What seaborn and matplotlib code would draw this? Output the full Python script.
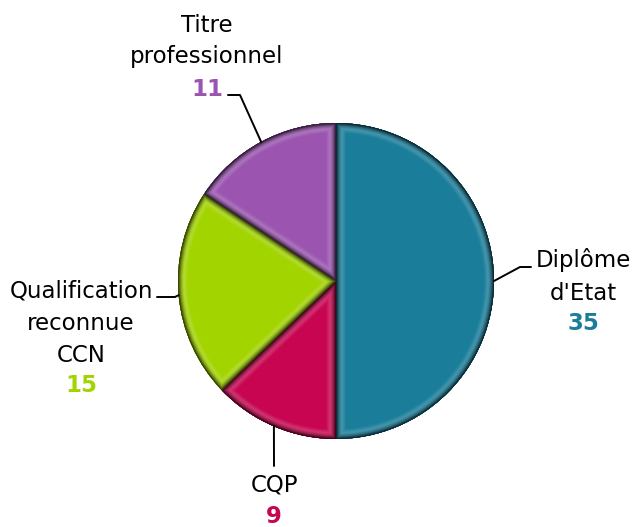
import numpy as np
import matplotlib
matplotlib.use("Agg")
import matplotlib.pyplot as plt
from matplotlib.colors import to_rgb
import seaborn as sns

categories = ["Diplôme\nd'Etat", "CQP", "Qualification\nreconnue\nCCN", "Titre\nprofessionnel"]
values = [35, 9, 15, 11]
colors = ["#1A7E9B", "#C70550", "#A2D400", "#9B55B0"]

sns.set_theme(style="white")
plt.rcParams['font.family'] = ['DejaVu Sans']

W, H = 633, 527
fig = plt.figure(figsize=(W / 100, H / 100), dpi=100)
cx, cy, R = 336, 281, 158
ax = fig.add_axes([(cx - R) / W, (H - cy - R) / H, 2 * R / W, 2 * R / H])


def blend(c1, c2, t):
    a, b = np.array(to_rgb(c1)), np.array(to_rgb(c2))
    return tuple(a + (b - a) * t)


# base pie (also used as clip shapes)
base, _ = ax.pie(values, colors=colors, startangle=90, counterclock=False,
                 radius=1.0, frame=False, wedgeprops=dict(linewidth=0, zorder=2))

# bevel: strokes clipped to each wedge, widest (main colour) first, narrowest (dark) last
n = 16
max_lw = 15.0
for i in range(n):
    t = i / (n - 1)  # 0 -> inner (main), 1 -> outer edge (dark)
    layer_cols = []
    for c in colors:
        dark = blend(c, "black", 0.7)
        light = blend(c, "white", 0.18)
        if t < 0.4:
            layer_cols.append(blend(c, light, t / 0.4))
        else:
            layer_cols.append(blend(light, dark, ((t - 0.4) / 0.6) ** 1.6))
    lw = max_lw * (1 - i / n)
    wedges, _ = ax.pie(values, startangle=90, counterclock=False, radius=1.0,
                       frame=False,
                       wedgeprops=dict(linewidth=lw, zorder=3 + i, facecolor="none"))
    for w, b, ec in zip(wedges, base, layer_cols):
        w.set_edgecolor(ec)
        w.set_facecolor("none")
        w.set_clip_on(True)
        w.set_clip_path(b)

ax.set_xlim(-1, 1)
ax.set_ylim(-1, 1)
ax.set_aspect("equal")
ax.axis("off")

# mid angles
total = sum(values)
angles = []
start = 90.0
for v in values:
    sweep = 360.0 * v / total
    angles.append(np.deg2rad(start - sweep / 2))
    start -= sweep


def px(x, y):
    return ((x - cx) / R, (cy - y) / R)


# leader line elbows (pixel positions)
elbows = [
    [(520, 267), (531, 267)],
    [(274, 466)],
    [(175, 297), (157, 297)],
    [(240, 95), (228, 95)],
]
for a, pts in zip(angles, elbows):
    xs = [np.cos(a)] + [px(*p)[0] for p in pts]
    ys = [np.sin(a)] + [px(*p)[1] for p in pts]
    ax.plot(xs, ys, color="black", lw=1.4, clip_on=False, zorder=20)

fs = 16.5
label_pos = [
    (583, [267, 300], 330),
    (274, [492], 523),
    (81, [298, 330, 362], 392),
    (207, [32, 63], 96),
]
for cat, v, col, (x, ys, ny) in zip(categories, values, colors, label_pos):
    for line, y in zip(cat.split("\n"), ys):
        tx, ty = px(x, y)
        ax.text(tx, ty, line, ha="center", va="baseline", fontsize=fs,
                color="black", clip_on=False)
    tx, ty = px(x, ny)
    ax.text(tx, ty, str(v), ha="center", va="baseline", fontsize=fs,
            fontweight="bold", color=col, clip_on=False)

fig.savefig("out.png", dpi=100, facecolor="white")
